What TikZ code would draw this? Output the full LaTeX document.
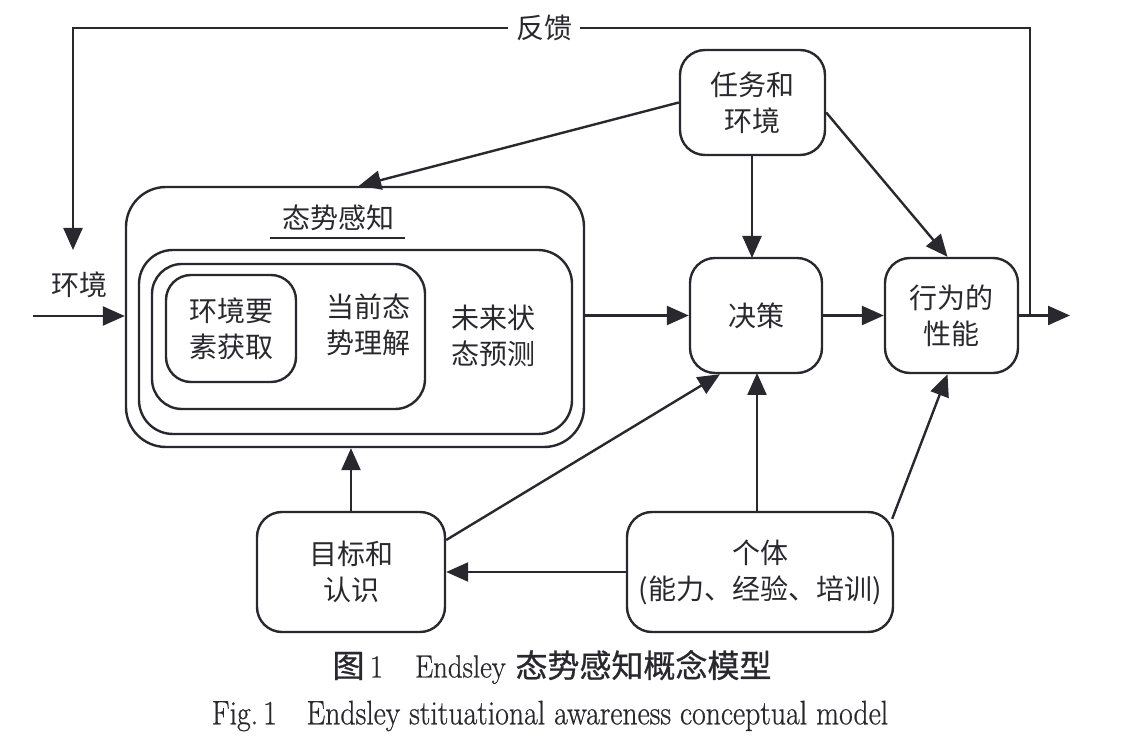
\documentclass[tikz,border=0pt]{standalone}
\usepackage{fontspec}
\usepackage{graphicx}
\newfontfamily\cjk{Noto Sans CJK SC}
\newfontfamily\cjkm[FakeBold=0.8]{Noto Sans CJK SC}
\newfontfamily\capfont[FakeBold=0.7]{Latin Modern Roman}
\usetikzlibrary{arrows.meta,calc}
\definecolor{ink}{RGB}{40,40,46}
\begin{document}
\begin{tikzpicture}[x=0.5pt,y=-0.5pt,
  line width=1.2pt, draw=ink, text=ink,
  arr/.style={-{Triangle[length=11pt,width=9.5pt]}, draw=ink, line width=1.2pt},
  rbox/.style={draw=ink, line width=1.2pt, rounded corners=12.5pt, align=center,
     font=\cjk\fontsize{14}{18}\selectfont, inner sep=0pt},
  lbl/.style={align=center, font=\cjk\fontsize{14}{18}\selectfont, inner sep=1pt}]
\useasboundingbox (0,0) rectangle (1126,754);

% situational awareness nested boxes
\node[rbox, rounded corners=20pt, minimum width=229pt, minimum height=130pt] (SA) at (355,317) {};
\node[rbox, rounded corners=17pt, minimum width=216.5pt, minimum height=92pt] (L3) at (355.5,342) {};
\node[rbox, rounded corners=15pt, minimum width=136.5pt, minimum height=72.5pt] (L2) at (288.5,336.5) {};
\node[rbox, rounded corners=12.5pt, minimum width=65pt, minimum height=53.5pt] (L1) at (231,328.5) {环境要\\素获取};
\node[lbl] (t2) at (368,325) {当前态\\势理解};
\node[lbl] (t3) at (493,336) {未来状\\态预测};
\node[lbl] (satitle) at (338,218) {态势感知};
\draw[line width=1pt] (270,238) -- (405,238);

% other boxes
\node[rbox, minimum width=72.5pt, minimum height=52.5pt] (task) at (752.5,102.5) {任务和\\环境};
\node[rbox, minimum width=66pt, minimum height=57.5pt] (dec) at (756,315.5) {决策};
\node[rbox, minimum width=66.5pt, minimum height=57.5pt] (perf) at (951.5,315.5) {行为的\\性能};
\node[rbox, minimum width=94pt, minimum height=60pt] (goal) at (351,572) {目标和\\认识};
\node[rbox, minimum width=133pt, minimum height=60pt] (ind) at (760,572) {个体\\(能力、经验、培训)};

% environment input
\node[lbl] (envl) at (80,285) {环境};
\coordinate (inp) at (33,316);
\draw[arr] (inp) -- (inp -| SA.west);

% connectors
\draw[arr] (task.west) -- ([xshift=2pt]SA.north);
\draw[arr] (task.south -| 752,0) -- (752,258);
\draw[arr] ([yshift=-5pt]task.east) -- ([xshift=-2pt]perf.north);
\draw[arr] (SA.east |- dec.west) -- (dec.west);
\draw[arr] (dec.east) -- (perf.west);
\coordinate (outp) at (1070,315.5);
\draw[arr] (perf.east) -- (outp);
\draw[arr] (goal.north) -- (goal.north |- SA.south);
\draw[arr] ([yshift=16pt]goal.east) -- ([xshift=-18pt]dec.south);
\draw[arr] (ind.west) -- (goal.east);
\draw[arr] (757,512) -- (757,373);
\draw[arr] ([xshift=-1pt,yshift=-4pt]ind.north east) -- ([xshift=-2pt]perf.south);

% feedback loop
\coordinate (fbr) at (1030,315.5);
\coordinate (fbend) at (73,250);
\draw[arr] (fbr) -- (1030,28) -- (73,28) -- (fbend);
\node[lbl, fill=white, inner xsep=4pt] (fb) at (544,28) {反馈};

% captions
\node[inner sep=0pt] (cap1) at (552,667) {\fontsize{16}{19}\selectfont{\cjkm 图}\,{\capfont\scalebox{0.9}[1]{1}}\hspace{1em}{\capfont\scalebox{0.9}[1]{Endsley}} {\cjkm 态势感知概念模型}};
\node[inner sep=0pt] (cap2) at (550,716) {\scalebox{0.875}[1]{\fontsize{17}{20}\selectfont\capfont Fig.\,1\hspace{1em}Endsley stituational awareness conceptual model}};
\end{tikzpicture}
\end{document}
